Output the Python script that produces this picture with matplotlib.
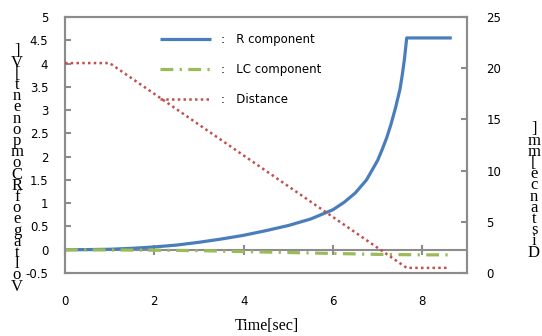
import matplotlib
matplotlib.use("Agg")
import matplotlib.pyplot as plt
import numpy as np

# Data
r_time = [0, 0.5, 1, 1.5, 2, 2.5, 3, 3.5, 4, 4.5, 5, 5.5, 6, 6.25, 6.5, 6.75, 7.0,
          7.1, 7.2, 7.3, 7.4, 7.5, 7.55, 7.6, 7.65, 8.66]
r_volt = [0, 0.003, 0.01, 0.03, 0.06, 0.1, 0.16, 0.23, 0.31, 0.41, 0.52, 0.66, 0.86,
          1.02, 1.22, 1.5, 1.92, 2.15, 2.4, 2.7, 3.05, 3.45, 3.75, 4.1, 4.55, 4.55]

lc_time = [0, 1, 2, 3, 4, 5, 6, 7, 8, 8.66]
lc_volt = [0, -0.005, -0.01, -0.02, -0.04, -0.06, -0.08, -0.1, -0.11, -0.11]

d_time = [0, 1.0, 7.65, 8.55]
d_dist = [20.5, 20.5, 0.5, 0.5]

x_ticks = [0, 2, 4, 6, 8]
y_ticks = [-0.5, 0, 0.5, 1, 1.5, 2, 2.5, 3, 3.5, 4, 4.5, 5]
y_tick_labels = ["-0.5", "0", "0.5", "1", "1.5", "2", "2.5", "3", "3.5", "4", "4.5", "5"]
y2_ticks = [0, 5, 10, 15, 20, 25]

left_label = "Voltage of R Component [V]"
right_label = "Distance [mm]"
x_label = "Time[sec]"
labels = ["R component", "LC component", "Distance"]

c_blue = "#4A7EBB"
c_green = "#9BBB59"
c_red = "#C0504D"
c_gray = "#8C8C8C"

W, H = 542, 336
fig = plt.figure(figsize=(W / 100, H / 100), dpi=100)
L, R, T, B = 65, 467, 17, 273
ax = fig.add_axes([L / W, 1 - B / H, (R - L) / W, (B - T) / H])
ax2 = ax.twinx()

ax.set_xlim(0, 9)
ax.set_ylim(-0.5, 5)
ax2.set_ylim(0, 25)

ax.axhline(0, color=c_gray, lw=1.5, zorder=1)

lr, = ax.plot(r_time, r_volt, color=c_blue, lw=2.3, solid_capstyle="butt",
              solid_joinstyle="round", zorder=3)
llc, = ax.plot(lc_time, lc_volt, color=c_green, lw=2.3, linestyle=(0, (4, 2, 0.7, 2)), zorder=3)
ld, = ax2.plot(d_time, d_dist, color=c_red, lw=1.8, linestyle=(0, (1, 1.3)), zorder=3)

for a in (ax, ax2):
    for s in a.spines.values():
        s.set_color(c_gray)
        s.set_linewidth(1.5)

ax.set_yticks(y_ticks)
ax.set_yticklabels(y_tick_labels, fontsize=8.5)
ax.tick_params(axis="y", direction="in", length=4, width=1.5, color=c_gray, pad=12, labelsize=8.5)
ax.set_xticks(x_ticks)
ax.tick_params(axis="x", length=0, pad=16, labelsize=8.5)

ax2.set_yticks(y2_ticks)
ax2.tick_params(axis="y", direction="in", length=4, width=1.5, color=c_gray, pad=14, labelsize=8.5)

# tick marks on the zero line
sec = ax.secondary_xaxis(0, transform=ax.transData)
sec.set_xticks(x_ticks)
sec.set_xticklabels([])
sec.spines["bottom"].set_visible(False)
sec.tick_params(axis="x", direction="inout", length=7, width=1.5, color=c_gray)

# stacked vertical labels
def stacked(s):
    return "\n".join(reversed(list(s.replace(" ", ""))))

fig.text(17 / W, 1 - 169 / H, stacked(left_label), family="Liberation Serif", fontsize=12,
         ha="center", va="center", linespacing=0.6)
fig.text(534 / W, 1 - 191 / H, stacked(right_label), family="Liberation Serif", fontsize=12,
         ha="center", va="center", linespacing=0.6)
fig.text(267 / W, 1 - 326 / H, x_label, family="Liberation Serif", fontsize=11.5,
         ha="center", va="center")

leg = ax2.legend([lr, llc, ld], [":   " + t for t in labels], loc="upper left",
                 bbox_to_anchor=(160 / W, 1 - 33 / H), bbox_transform=fig.transFigure,
                 frameon=False, fontsize=8.5, handlelength=4.3, handletextpad=0.9,
                 labelspacing=1.45, borderpad=0, borderaxespad=0)

fig.savefig("out.png", dpi=100)
